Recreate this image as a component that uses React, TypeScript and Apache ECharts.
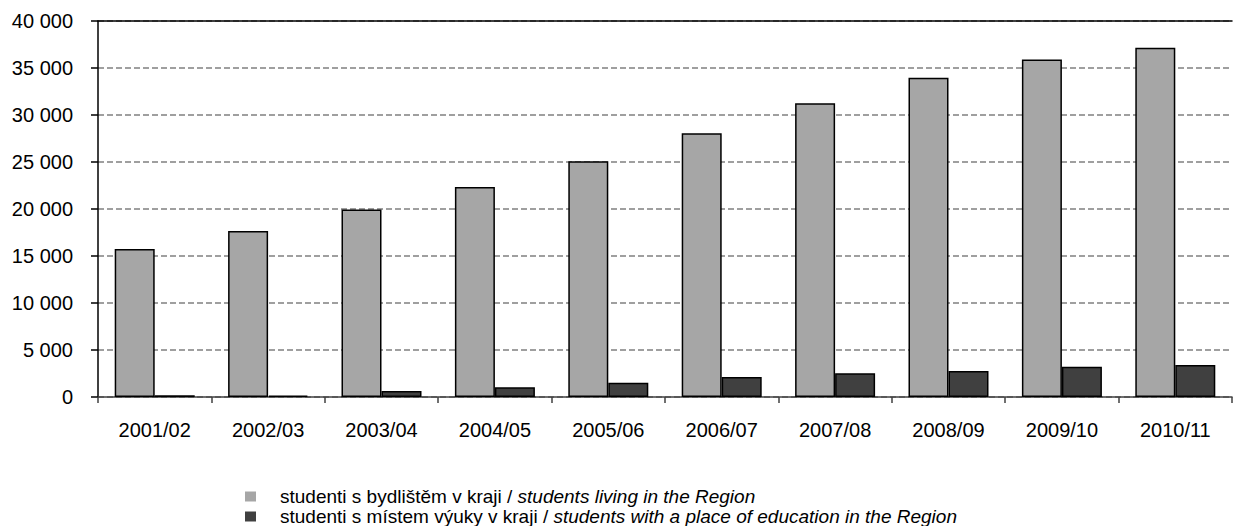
import React, { useEffect, useRef } from "react";
import * as echarts from "echarts";

const categories = ["2001/02", "2002/03", "2003/04", "2004/05", "2005/06", "2006/07", "2007/08", "2008/09", "2009/10", "2010/11"];
const livingInRegion = [15750, 17650, 19950, 22350, 25070, 28050, 31250, 33950, 35900, 37150];
const educatedInRegion = [180, 150, 640, 1030, 1520, 2130, 2520, 2770, 3230, 3400];
const seriesNames = [
  "studenti s bydlištěm v kraji / students living in the Region",
  "studenti s místem výuky v kraji / students with a place of education in the Region",
];
const legendParts: Record<string, [string, string]> = {
  [seriesNames[0]]: ["studenti s bydlištěm v kraji / ", "students living in the Region"],
  [seriesNames[1]]: ["studenti s místem výuky v kraji / ", "students with a place of education in the Region"],
};

const FONT = "'Liberation Sans', Arial, sans-serif";

const legendFor = (name: string, top: number) => ({
  orient: "horizontal",
  left: 240,
  top,
  itemWidth: 11,
  itemHeight: 10,
  icon: "rect",
  data: [name],
  itemStyle: { borderWidth: 0 },
  selectedMode: false,
  formatter: (n: string) => {
    const p = legendParts[n];
    return `{a|${p[0]}}{b|${p[1]}}`;
  },
  textStyle: {
    padding: [0, 0, 0, 19],
    rich: {
      a: { fontFamily: FONT, fontSize: 19, lineHeight: 19, color: "#000" },
      b: { fontFamily: FONT, fontSize: 19, lineHeight: 19, fontStyle: "italic", color: "#000" },
    },
  },
});

export default function App() {
  const ref = useRef<HTMLDivElement>(null);
  useEffect(() => {
    if (!ref.current) return;
    const chart = echarts.init(ref.current, null, { renderer: "svg" });
    chart.setOption({
      animation: false,
      backgroundColor: "#ffffff",
      textStyle: { fontFamily: FONT },
      grid: { left: 98, right: 2, top: 21, bottom: 129, containLabel: false },
      legend: [legendFor(seriesNames[0], 482), legendFor(seriesNames[1], 502)],
      xAxis: [
        {
          type: "category",
          data: categories,
          position: "bottom",
          axisLine: { lineStyle: { color: "#404040", width: 1.5 } },
          axisTick: { show: true, length: 6, lineStyle: { color: "#404040", width: 1.5 } },
          axisLabel: { color: "#000", fontSize: 20, fontFamily: FONT, margin: 23 },
        },
        {
          type: "category",
          data: categories,
          position: "top",
          axisLine: { show: true, lineStyle: { color: "#000", width: 1.5 } },
          axisTick: { show: false },
          axisLabel: { show: false },
        },
      ],
      yAxis: {
        type: "value",
        min: 0,
        max: 40000,
        interval: 5000,
        axisLine: { show: true, lineStyle: { color: "#000", width: 1.5 } },
        axisTick: { show: true, length: 7, lineStyle: { color: "#000", width: 1.5 } },
        axisLabel: {
          color: "#000",
          fontSize: 20,
          fontFamily: FONT,
          margin: 25,
          formatter: (v: number) => {
            const s = String(v);
            return s.length > 3 ? s.slice(0, s.length - 3) + " " + s.slice(-3) : s;
          },
        },
        splitLine: { show: true, lineStyle: { color: "#808080", width: 1.5, type: [6, 3] } },
      },
      series: [
        {
          name: seriesNames[0],
          type: "bar",
          data: livingInRegion,
          barWidth: 40,
          barGap: "0%",
          itemStyle: { color: "#a6a6a6", borderColor: "#000", borderWidth: 1.5 },
        },
        {
          name: seriesNames[1],
          type: "bar",
          data: educatedInRegion,
          barWidth: 40,
          barGap: "0%",
          itemStyle: { color: "#404040", borderColor: "#000", borderWidth: 1.5 },
        },
      ],
    });
    return () => chart.dispose();
  }, []);
  return <div ref={ref} style={{ position: "fixed", left: 0, top: 0, width: 1234, height: 526 }} />;
}
